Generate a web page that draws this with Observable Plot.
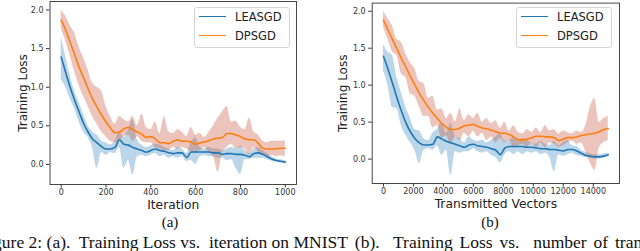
<!DOCTYPE html>
<html>
<head>
<meta charset="utf-8">
<script src="https://cdn.jsdelivr.net/npm/d3@7"></script>
<script src="https://cdn.jsdelivr.net/npm/@observablehq/plot@0.6"></script>
<style>
html, body { margin: 0; padding: 0; background: #fff; }
body { width: 640px; height: 251px; overflow: hidden; position: relative; font-family: "DejaVu Sans", sans-serif; }
.panel { position: absolute; top: 0; }
.legend { position: absolute; top: 7px; width: 96px; height: 41px; box-sizing: border-box; border: 1px solid #d4d4d4; border-radius: 3px; background: rgba(255,255,255,0.85); z-index: 5; }
.legend .sw { position: absolute; left: 4px; width: 27px; height: 0; border-top: 1.6px solid; }
.legend .lb { position: absolute; left: 40px; font-size: 11.5px; line-height: 12px; color: #222; white-space: nowrap; }
.sub { position: absolute; top: 214px; width: 100px; text-align: center; font-family: "Liberation Serif", serif; font-size: 15px; line-height: 17px; color: #111; }
.caption { position: absolute; left: -21.5px; top: 234px; white-space: pre; font-family: "Liberation Serif", serif; font-size: 17.5px; line-height: 17px; color: #111; }
.caption .wide { word-spacing: 2.5px; }
</style>
</head>
<body>
<script>
// ---------- data ----------
const seriesNames = ["LEASGD", "DPSGD"];
const yTicks = [0, 0.5, 1, 1.5, 2];

// (a) loss vs iteration, sampled every 20 iterations
const iterations = d3.range(0, 1001, 20);
const xTicksA = [0, 200, 400, 600, 800, 1000];
const leasgdIterMean = [1.39,1.19,1.00,0.83,0.68,0.53,0.42,0.33,0.28,0.23,0.20,0.20,0.22,0.32,0.26,0.25,0.22,0.20,0.18,0.16,0.18,0.20,0.18,0.17,0.15,0.14,0.15,0.15,0.09,0.16,0.16,0.16,0.16,0.16,0.15,0.15,0.13,0.14,0.14,0.13,0.13,0.12,0.10,0.14,0.15,0.13,0.10,0.07,0.05,0.04,0.03];
const leasgdIterHi = [1.65,1.40,1.15,0.95,0.80,0.65,0.50,0.42,0.38,0.30,0.28,0.25,0.30,0.42,0.35,0.45,0.58,0.32,0.25,0.22,0.24,0.26,0.25,0.22,0.20,0.18,0.22,0.20,0.14,0.28,0.35,0.22,0.20,0.22,0.20,0.20,0.18,0.20,0.22,0.20,0.24,0.18,0.14,0.20,0.22,0.18,0.14,0.10,0.07,0.06,0.05];
const leasgdIterLo = [1.10,1.00,0.85,0.72,0.55,0.42,0.35,0.22,-0.05,0.15,0.12,0.15,0.14,0.22,-0.05,0.05,-0.14,0.10,0.12,0.10,0.12,0.14,0.10,0.12,0.08,0.10,0.08,0.10,0.04,0.05,0.00,0.10,0.12,0.10,0.10,0.08,0.08,0.05,0.06,-0.05,-0.13,0.06,0.06,0.08,0.08,0.08,0.06,0.04,0.03,0.02,0.01];
const dpsgdIterMean = [1.87,1.74,1.58,1.42,1.26,1.12,0.98,0.85,0.74,0.64,0.55,0.47,0.41,0.42,0.46,0.48,0.45,0.42,0.39,0.35,0.36,0.33,0.28,0.28,0.27,0.30,0.32,0.30,0.30,0.29,0.26,0.28,0.29,0.31,0.33,0.34,0.35,0.40,0.40,0.38,0.36,0.33,0.32,0.32,0.27,0.21,0.20,0.20,0.20,0.21,0.21];
const dpsgdIterHi = [2.00,1.92,1.80,1.70,1.52,1.38,1.22,1.05,1.00,0.95,0.75,0.62,0.52,0.62,0.58,0.55,0.62,0.50,0.65,0.48,0.45,0.55,0.40,0.62,0.42,0.40,0.45,0.42,0.36,0.48,0.38,0.40,0.35,0.42,0.50,0.60,0.68,0.75,0.55,0.56,0.48,0.45,0.60,0.42,0.38,0.30,0.28,0.30,0.30,0.30,0.31];
const dpsgdIterLo = [1.75,1.60,1.40,1.20,1.02,0.88,0.75,0.62,0.52,0.42,0.36,0.30,0.28,0.30,0.36,0.38,0.30,0.36,0.30,0.28,0.28,0.22,0.20,0.18,0.18,0.22,0.20,0.22,0.20,0.16,0.15,0.18,0.22,0.15,0.10,-0.10,0.15,0.22,0.26,0.20,0.22,0.20,0.12,0.22,0.16,0.12,0.10,0.12,0.10,0.11,0.10];

// (b) loss vs transmitted vectors, sampled every 300 vectors
const vectors = d3.range(0, 15001, 300);
const xTicksB = [0, 2000, 4000, 6000, 8000, 10000, 12000, 14000];
const leasgdVecMean = [1.39,1.22,1.03,0.83,0.65,0.49,0.37,0.28,0.22,0.19,0.19,0.20,0.30,0.27,0.24,0.22,0.20,0.18,0.16,0.19,0.20,0.18,0.17,0.16,0.14,0.12,0.06,0.15,0.17,0.17,0.17,0.17,0.16,0.16,0.15,0.14,0.14,0.13,0.13,0.12,0.11,0.13,0.13,0.11,0.08,0.05,0.04,0.03,0.03,0.04,0.06];
const leasgdVecHi = [1.55,1.45,1.40,1.10,0.90,0.70,0.55,0.40,0.38,0.28,0.25,0.35,0.40,0.50,0.35,0.48,0.30,0.28,0.22,0.30,0.26,0.24,0.26,0.22,0.25,0.30,0.34,0.24,0.25,0.30,0.24,0.28,0.25,0.22,0.20,0.24,0.20,0.18,0.24,0.18,0.22,0.25,0.18,0.17,0.12,0.09,0.07,0.06,0.06,0.07,0.08];
const leasgdVecLo = [1.20,1.00,0.70,0.68,0.45,0.32,0.22,0.12,-0.06,0.12,0.14,0.12,0.18,0.05,0.12,-0.22,0.10,0.08,0.10,0.10,0.14,0.10,0.08,0.10,0.05,0.02,-0.05,0.06,0.10,0.06,0.10,0.06,0.10,0.08,0.10,0.06,0.08,0.02,-0.17,0.06,0.04,0.06,0.08,0.05,0.04,0.02,0.01,0.00,0.00,0.01,0.04];
const dpsgdVecMean = [1.88,1.75,1.62,1.49,1.36,1.24,1.12,1.00,0.89,0.79,0.70,0.62,0.55,0.48,0.43,0.40,0.40,0.42,0.45,0.46,0.47,0.44,0.42,0.41,0.39,0.37,0.35,0.35,0.33,0.30,0.26,0.26,0.27,0.29,0.31,0.31,0.30,0.30,0.29,0.25,0.27,0.29,0.29,0.30,0.32,0.33,0.34,0.35,0.37,0.40,0.41];
const dpsgdVecHi = [2.00,1.90,1.80,1.62,1.58,1.42,1.30,1.22,1.05,1.02,0.82,0.85,0.66,0.68,0.55,0.62,0.50,0.68,0.52,0.60,0.55,0.62,0.50,0.55,0.48,0.52,0.42,0.50,0.38,0.45,0.36,0.34,0.40,0.36,0.42,0.36,0.45,0.38,0.40,0.34,0.38,0.36,0.34,0.38,0.36,0.45,0.70,0.82,0.50,0.55,0.58];
const dpsgdVecLo = [1.78,1.62,1.45,1.40,1.15,1.10,0.88,0.85,0.70,0.58,0.58,0.42,0.45,0.28,0.32,0.20,0.30,0.25,0.35,0.30,0.38,0.30,0.35,0.25,0.30,0.22,0.28,0.22,0.25,0.15,0.18,0.20,0.15,0.22,0.15,0.22,0.15,0.22,0.20,0.16,0.18,0.22,0.24,0.20,0.22,0.10,-0.05,-0.15,0.15,0.22,0.25];

// ---------- drawing ----------
const BLUE = "#1f77b4", ORANGE = "#ff7f0e", BAND_O = "#c8553d";
const toRows = (xs, m, lo, hi) => xs.map((x, i) => ({x, mean: m[i], lo: lo[i], hi: hi[i]}));

function panel({xs, blue, orange, xDomain, yDomain, xTicks, xLabel, ml, mr, mt, mb, yLabelOffset}) {
  const b = toRows(xs, ...blue), o = toRows(xs, ...orange);
  return Plot.plot({
    width: 320, height: 214,
    marginLeft: ml, marginRight: mr, marginTop: mt, marginBottom: mb,
    style: {background: "transparent", fontFamily: "DejaVu Sans", color: "#333", overflow: "visible"},
    x: {domain: xDomain},
    y: {domain: yDomain},
    marks: [
      Plot.areaY(b, {x: "x", y1: "lo", y2: "hi", fill: BLUE, fillOpacity: 0.3, curve: "monotone-x"}),
      Plot.areaY(o, {x: "x", y1: "lo", y2: "hi", fill: BAND_O, fillOpacity: 0.35, curve: "monotone-x"}),
      Plot.lineY(b, {x: "x", y: "mean", stroke: BLUE, strokeWidth: 1.6, curve: "monotone-x"}),
      Plot.lineY(o, {x: "x", y: "mean", stroke: ORANGE, strokeWidth: 1.6, curve: "monotone-x"}),
      Plot.frame({stroke: "#333", strokeWidth: 0.9}),
      Plot.axisX({ticks: xTicks, tickFormat: d => String(d), tickSize: 3.5, tickPadding: 1.5, fontSize: 8, label: null}),
      Plot.axisX({ticks: [], tickSize: 0, label: xLabel, labelAnchor: "center", labelArrow: "none", labelOffset: 24, fontSize: 12.3, fill: "#222"}),
      Plot.axisY({ticks: yTicks, tickFormat: d3.format(".1f"), tickSize: 3.5, tickPadding: 3, fontSize: 8, label: null}),
      Plot.axisY({ticks: [], tickSize: 0, label: "Training Loss", labelAnchor: "center", labelArrow: "none", labelOffset: yLabelOffset, fontSize: 12, fill: "#222"})
    ]
  });
}

function legend(left) {
  const d = document.createElement("div");
  d.className = "legend";
  d.style.left = left + "px";
  const cols = [BLUE, ORANGE];
  seriesNames.forEach((name, i) => {
    const cy = i === 0 ? 9 : 28;
    const sw = document.createElement("div");
    sw.className = "sw"; sw.style.top = (cy - 1) + "px"; sw.style.borderTopColor = cols[i];
    const lb = document.createElement("div");
    lb.className = "lb"; lb.style.top = (cy - 6.5) + "px"; lb.textContent = name;
    d.appendChild(sw); d.appendChild(lb);
  });
  return d;
}

const left = document.createElement("div");
left.className = "panel"; left.style.left = "0px";
left.appendChild(panel({
  xs: iterations,
  blue: [leasgdIterMean, leasgdIterLo, leasgdIterHi],
  orange: [dpsgdIterMean, dpsgdIterLo, dpsgdIterHi],
  xDomain: [-50, 1050], yDomain: [-0.26, 2.11], xTicks: xTicksA, xLabel: "Iteration",
  ml: 49.5, mr: 24, mt: 1, mb: 30, yLabelOffset: 32
}));
document.body.appendChild(left);

const right = document.createElement("div");
right.className = "panel"; right.style.left = "320px";
right.appendChild(panel({
  xs: vectors,
  blue: [leasgdVecMean, leasgdVecLo, leasgdVecHi],
  orange: [dpsgdVecMean, dpsgdVecLo, dpsgdVecHi],
  xDomain: [-750, 15750], yDomain: [-0.33, 2.11], xTicks: xTicksB, xLabel: "Transmitted Vectors",
  ml: 51.7, mr: 21, mt: 2.6, mb: 31, yLabelOffset: 33.5
}));
document.body.appendChild(right);

document.body.appendChild(legend(194));
document.body.appendChild(legend(516));

const subA = document.createElement("div");
subA.className = "sub"; subA.style.left = "120px"; subA.textContent = "(a)";
const subB = document.createElement("div");
subB.className = "sub"; subB.style.left = "440px"; subB.textContent = "(b)";
document.body.appendChild(subA); document.body.appendChild(subB);

const cap = document.createElement("div");
cap.className = "caption";
const capA = document.createElement("span");
capA.textContent = "Figure 2: (a).  Training Loss vs.  iteration on MNIST";
const capB = document.createElement("span");
capB.className = "wide";
capB.textContent = " (b).  Training Loss vs.  number of transmitted vectors on MNIST.";
cap.appendChild(capA); cap.appendChild(capB);
document.body.appendChild(cap);
</script>
</body>
</html>
